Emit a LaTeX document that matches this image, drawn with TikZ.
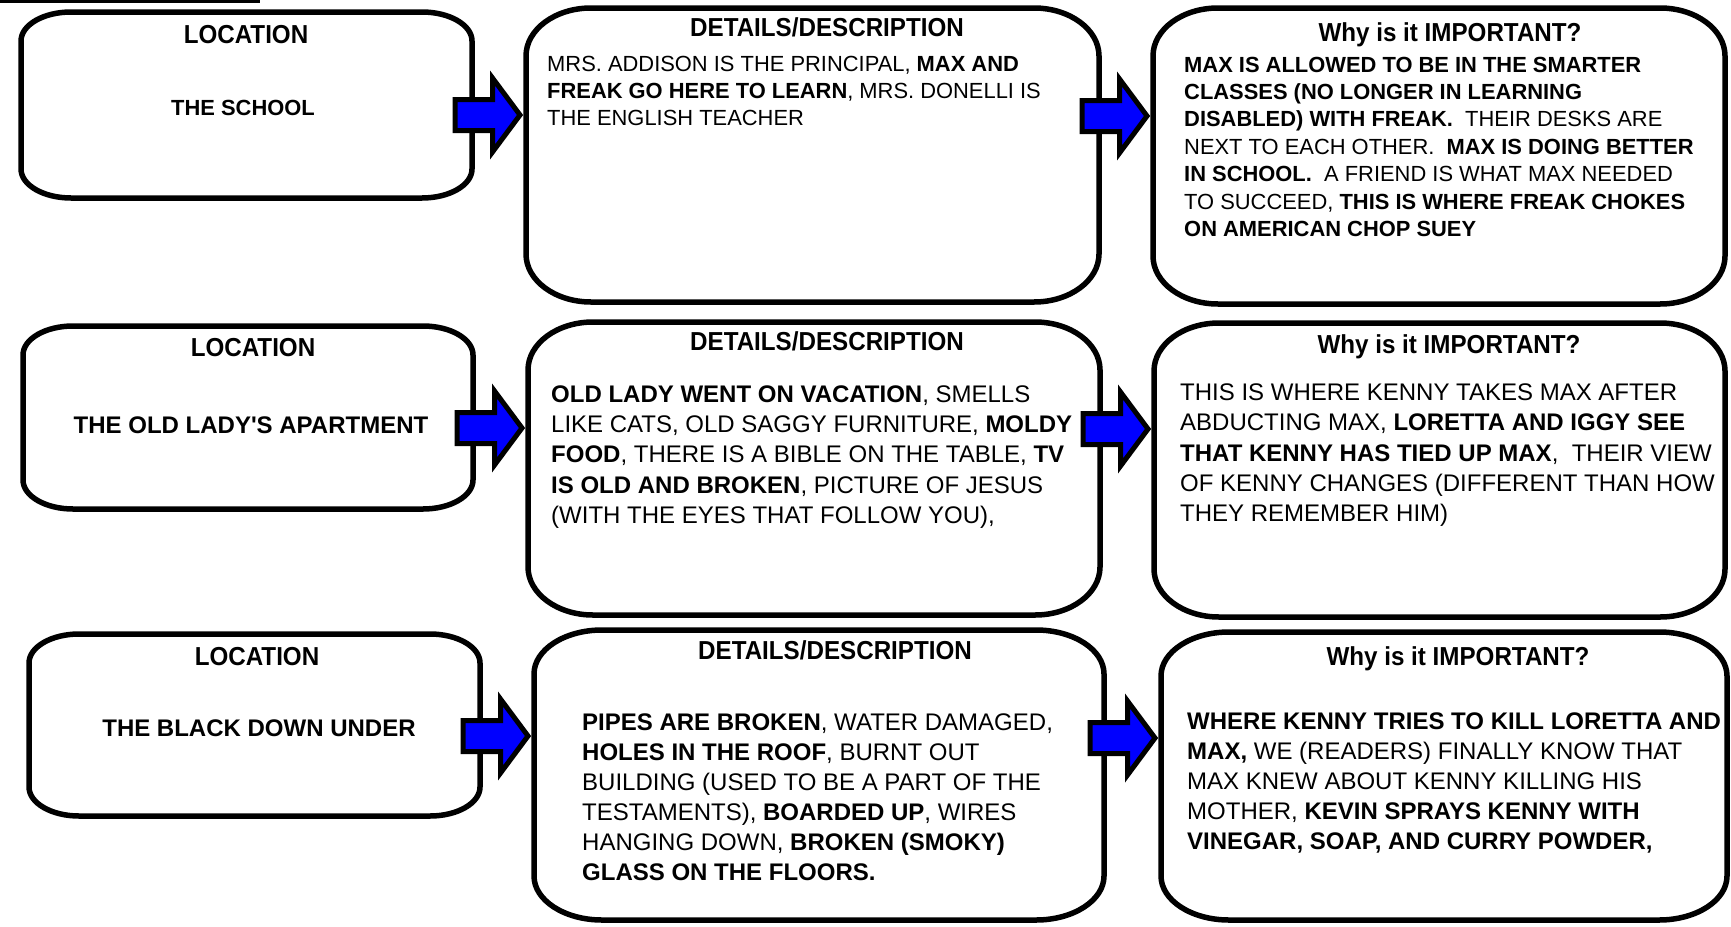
\documentclass[tikz,border=0pt]{standalone}
\usepackage{fontspec}
\setmainfont{Liberation Sans}
\newfontfamily\hfont[FakeStretch=0.93]{Liberation Sans}
\usetikzlibrary{calc}
\definecolor{arrowblue}{RGB}{0,0,255}
\tikzset{
  boxline/.style={draw=black, line width=5.5pt, line join=round},
  boxnode/.style={inner sep=0pt, outer sep=0pt, draw=none},
  barrow/.style={draw=black, fill=arrowblue, line width=5pt, line join=miter},
  headtxt/.style={inner sep=0pt, anchor=base, font=\hfont\bfseries\fontsize{26}{30}\selectfont},
  placetxt/.style={inner sep=0pt, anchor=base, font=\bfseries\fontsize{24}{28}\selectfont},
  placetxtsmall/.style={inner sep=0pt, anchor=base, font=\bfseries\fontsize{21.9}{26}\selectfont},
  bodytxt/.style={inner sep=0pt, anchor=base west},
}
% name, x1, y1, x2, y2, rx, ry
\newcommand\ebox[7]{%
  \node[boxnode, minimum width={#4-#2}, minimum height={#5-#3}] (#1) at ({(#2+#4)/2},{(#3+#5)/2}) {};
  \draw[boxline] ({#2+#6},#3) -- ({#4-#6},#3)
    .. controls ({#4-0.448*#6},#3) and (#4,{#3+0.448*#7}) .. (#4,{#3+#7})
    -- (#4,{#5-#7})
    .. controls (#4,{#5-0.448*#7}) and ({#4-0.448*#6},#5) .. ({#4-#6},#5)
    -- ({#2+#6},#5)
    .. controls ({#2+0.448*#6},#5) and (#2,{#5-0.448*#7}) .. (#2,{#5-#7})
    -- (#2,{#3+#7})
    .. controls (#2,{#3+0.448*#7}) and ({#2+0.448*#6},#3) .. cycle;
}
% name, target node, y of tip
\newcommand\barr[3]{%
  \coordinate (#1y) at (0,#3);
  \coordinate (#1) at (#2.west |- #1y);
  \draw[barrow] ($(#1)+(-71,-15.5)$) -- ($(#1)+(-33.5,-15.5)$) -- ($(#1)+(-33.5,-37)$)
    -- ($(#1)+(-6,0)$) -- ($(#1)+(-33.5,37)$) -- ($(#1)+(-33.5,15.5)$)
    -- ($(#1)+(-71,15.5)$) -- cycle;
}
% font size, baselineskip, text
\newcommand\bodyblock[3]{\parbox[t]{600pt}{\fontsize{#1}{#2}\selectfont\raggedright #3}}
\begin{document}
\begin{tikzpicture}[x=1pt,y=-1pt]
\useasboundingbox (0,0) rectangle (1731,926);
\fill[white] (0,0) rectangle (1731,926);
% top-left rule
\coordinate (rulea) at (0,1.4);
\coordinate (ruleb) at (260,1.4);
\draw[line width=2.8pt] (rulea) -- (ruleb);

% boxes
\ebox{a1}{21}{12}{472}{198}{50}{29}
\ebox{b1}{526}{8}{1099}{302}{65}{48}
\ebox{c1}{1153}{8}{1725}{304}{65}{48}
\ebox{a2}{23}{326}{473}{509}{50}{29}
\ebox{b2}{528}{322}{1100}{615}{65}{48}
\ebox{c2}{1154}{323}{1725}{617}{65}{48}
\ebox{a3}{29}{634}{480}{816}{50}{29}
\ebox{b3}{534}{630}{1104}{920}{68}{44}
\ebox{c3}{1161}{632}{1727}{920}{68}{44}

% arrows
\barr{t1}{b1}{115}
\barr{t2}{c1}{116}
\barr{t3}{b2}{428}
\barr{t4}{c2}{429}
\barr{t5}{b3}{736}
\barr{t6}{c3}{738}

% headers
\node[headtxt] (h1) at (246,43.5) {LOCATION};
\node[headtxt] (h2) at (827,36) {DETAILS/DESCRIPTION};
\node[headtxt] (h3) at (1450,41.5) {Why is it IMPORTANT?};
\node[headtxt] (h4) at (253,356.5) {LOCATION};
\node[headtxt] (h5) at (827,350.5) {DETAILS/DESCRIPTION};
\node[headtxt] (h6) at (1449,353.5) {Why is it IMPORTANT?};
\node[headtxt] (h7) at (257,665.5) {LOCATION};
\node[headtxt] (h8) at (835,659.5) {DETAILS/DESCRIPTION};
\node[headtxt] (h9) at (1458,665.5) {Why is it IMPORTANT?};

% place names
\node[placetxtsmall] (p1) at (243,115) {THE SCHOOL};
\node[placetxt] (p2) at (251,433) {THE OLD LADY\textquotesingle S APARTMENT};
\node[placetxt] (p3) at (259,736) {THE BLACK DOWN UNDER};

% body texts
\node[bodytxt] (d1) at (547,71) {\bodyblock{21.9}{27}{MRS. ADDISON IS THE PRINCIPAL, \textbf{MAX AND}\\
\textbf{FREAK GO HERE TO LEARN}, MRS. DONELLI IS\\
THE ENGLISH TEACHER}};

\node[bodytxt] (w1) at (1184,72) {\bodyblock{21.9}{27.4}{\textbf{MAX IS ALLOWED TO BE IN THE SMARTER}\\
\textbf{CLASSES (NO LONGER IN LEARNING}\\
\textbf{DISABLED) WITH FREAK.}\ \ THEIR DESKS ARE\\
NEXT TO EACH OTHER.\ \ \textbf{MAX IS DOING BETTER}\\
\textbf{IN SCHOOL.}\ \ A FRIEND IS WHAT MAX NEEDED\\
TO SUCCEED, \textbf{THIS IS WHERE FREAK CHOKES}\\
\textbf{ON AMERICAN CHOP SUEY}}};

\node[bodytxt] (d2) at (551,402.5) {\bodyblock{24}{30.2}{\textbf{OLD LADY WENT ON VACATION}, SMELLS\\
LIKE CATS, OLD SAGGY FURNITURE, \textbf{MOLDY}\\
\textbf{FOOD}, THERE IS A BIBLE ON THE TABLE, \textbf{TV}\\
\textbf{IS OLD AND BROKEN}, PICTURE OF JESUS\\
(WITH THE EYES THAT FOLLOW YOU),}};

\node[bodytxt] (w2) at (1180,400.5) {\bodyblock{24}{30.3}{THIS IS WHERE KENNY TAKES MAX AFTER\\
ABDUCTING MAX, \textbf{LORETTA AND IGGY SEE}\\
\textbf{THAT KENNY HAS TIED UP MAX},\ \ THEIR VIEW\\
OF KENNY CHANGES (DIFFERENT THAN HOW\\
THEY REMEMBER HIM)}};

\node[bodytxt] (d3) at (582,730) {\bodyblock{24}{30}{\textbf{PIPES ARE BROKEN}, WATER DAMAGED,\\
\textbf{HOLES IN THE ROOF}, BURNT OUT\\
BUILDING (USED TO BE A PART OF THE\\
TESTAMENTS), \textbf{BOARDED UP}, WIRES\\
HANGING DOWN, \textbf{BROKEN (SMOKY)}\\
\textbf{GLASS ON THE FLOORS.}}};

\node[bodytxt] (w3) at (1187,729) {\bodyblock{24}{30}{\textbf{WHERE KENNY TRIES TO KILL LORETTA AND}\\
\textbf{MAX,} WE (READERS) FINALLY KNOW THAT\\
MAX KNEW ABOUT KENNY KILLING HIS\\
MOTHER, \textbf{KEVIN SPRAYS KENNY WITH}\\
\textbf{VINEGAR, SOAP, AND CURRY POWDER,}}};
\end{tikzpicture}
\end{document}
